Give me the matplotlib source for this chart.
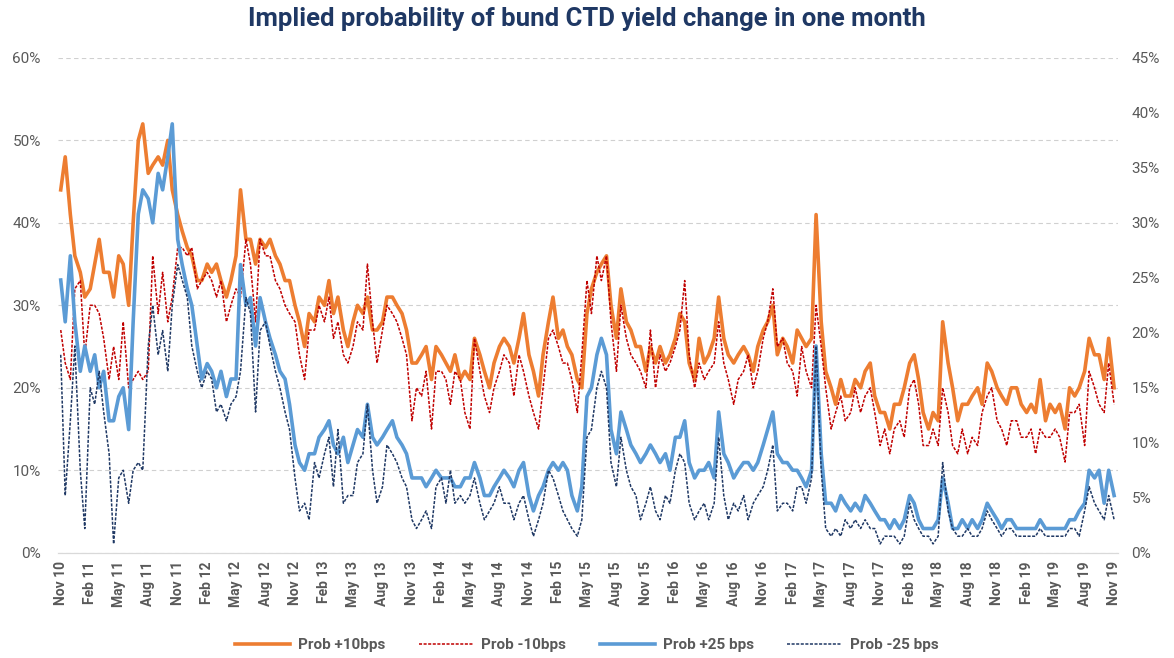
import numpy as np
import pandas as pd
import matplotlib as mpl
mpl.use('Agg')
import matplotlib.pyplot as plt
import matplotlib.dates as mdates
from matplotlib.ticker import FuncFormatter, MultipleLocator

plt.rcParams['font.family'] = ['Roboto', 'DejaVu Sans']

# semi-monthly observations, Nov 2010 - Nov 2019
dates = pd.date_range('2010-11-01', periods=217, freq='SMS')

# left axis (%)
prob_p10 = [44, 48, 41, 36, 34, 31, 32, 35, 38, 34, 34, 31, 36, 35, 30, 40, 50, 52, 46, 47, 48, 47, 50, 44, 41,
            39, 37, 36, 33, 33, 35, 34, 35, 33, 31, 33, 36,
            44, 38, 38, 35, 38, 37, 38, 36, 35, 33, 33, 30, 28, 25, 29, 28, 31, 30, 33, 29, 31, 27, 25, 28,
            30, 29, 31, 27, 27, 28, 31, 31, 30, 29, 27, 23, 23, 24, 25, 21, 25, 24, 23, 22, 24, 21, 22,
            21, 26, 24, 22, 20, 23, 25, 26, 25, 23, 26, 29, 24, 22, 19, 24, 28, 31, 26, 27, 25, 24, 21, 20,
            29, 32, 34, 35, 36, 30, 26, 32, 28, 27, 25, 25, 22, 25, 23, 25, 23, 24, 26, 29, 28, 23, 21,
            26, 23, 24, 26, 31, 26, 24, 23, 24, 25, 24, 22, 25, 27, 28, 30, 24, 26, 25, 23, 27, 26, 25, 26,
            41, 28, 22, 20, 18, 21, 19, 19, 21, 20, 22, 23, 19, 17, 17, 15, 18, 18, 20, 23, 24, 21, 17,
            15, 17, 16, 28, 23, 20, 16, 18, 18, 19, 20, 18, 23, 22, 20, 19, 18, 20, 20, 18, 17, 18, 17, 21,
            16, 18, 17, 18, 15, 20, 19, 20, 22, 26, 24, 24, 21, 26, 20]

prob_m10 = [27, 23, 21, 32, 33, 24, 30, 30, 29, 26, 21, 25, 21, 28, 20, 21, 22, 21, 22, 36, 29, 34, 28, 31, 37,
            37, 36, 37, 32, 33, 34, 33, 31, 33, 28, 30, 32,
            31, 38, 35, 28, 38, 36, 36, 33, 32, 30, 29, 28, 24, 21, 27, 27, 30, 28, 31, 26, 28, 24, 23, 25,
            28, 27, 35, 28, 23, 27, 30, 29, 28, 26, 24, 16, 20, 19, 22, 15, 22, 22, 21, 18, 22, 21, 17,
            15, 26, 22, 19, 17, 20, 22, 24, 23, 19, 24, 22, 19, 17, 15, 20, 26, 27, 25, 23, 23, 21, 17, 24,
            33, 29, 36, 33, 36, 28, 22, 30, 26, 24, 23, 22, 20, 27, 20, 24, 22, 23, 25, 27, 33, 24, 20,
            23, 21, 22, 23, 28, 23, 21, 18, 21, 22, 24, 20, 22, 26, 28, 32, 25, 26, 23, 22, 19, 25, 22, 20,
            30, 25, 20, 15, 17, 19, 16, 17, 20, 17, 19, 20, 17, 13, 15, 12, 15, 16, 14, 20, 21, 18, 13,
            13, 15, 13, 20, 17, 13, 12, 15, 12, 14, 13, 17, 19, 20, 16, 15, 13, 16, 16, 14, 14, 15, 12, 15,
            14, 14, 15, 14, 11, 17, 17, 18, 13, 22, 20, 18, 17, 23, 18]

# right axis (%)
prob_p25 = [24.8, 21.0, 27.0, 21.0, 16.5, 18.8, 16.5, 18.0, 15.0, 16.5, 12.0, 12.0, 14.2, 15.0, 11.2, 21.0,
            30.8, 33.0, 32.2, 30.0, 34.5, 33.0, 36.0, 39.0, 28.5, 26.2, 24.0, 22.5, 18.8, 15.8, 17.2, 16.5,
            15.0, 16.5, 14.2, 15.8, 15.8,
            26.2, 22.5, 23.2, 18.8, 23.2, 21.0, 19.5, 18.0, 16.5, 15.8, 13.5, 9.8, 8.2, 7.5, 9.0, 9.0, 10.5,
            11.2, 12.0, 9.8, 9.0, 10.5, 8.2, 9.8, 11.2, 10.5, 13.5, 10.5, 9.8, 10.5, 11.2, 12.0, 10.5, 9.8,
            9.0, 6.8, 6.8, 6.8, 6.0, 6.8, 7.5, 6.8, 6.8, 6.8, 6.0, 6.0, 6.8,
            6.8, 8.2, 6.8, 5.2, 5.2, 6.0, 6.8, 7.5, 6.8, 6.0, 7.5, 8.2, 5.2, 3.8, 5.2, 6.0, 7.5, 8.2, 7.5,
            8.2, 7.5, 5.2, 3.8, 6.0, 14.2, 15.0, 18.0, 19.5, 18.0, 11.2, 9.0, 12.8, 11.2, 9.8, 9.0, 8.2,
            9.0, 9.8, 9.0, 8.2, 9.0, 7.5, 10.5, 10.5, 12.0, 8.2, 6.8,
            7.5, 7.5, 8.2, 6.8, 12.8, 9.0, 8.2, 6.8, 7.5, 8.2, 8.2, 7.5, 8.2, 9.8, 11.2, 12.8, 9.0, 8.2,
            8.2, 7.5, 7.5, 6.8, 6.0, 7.5, 18.8, 9.0, 4.5, 4.5, 3.8, 5.2, 4.5, 3.8, 4.5, 3.8, 5.2, 4.5, 3.8,
            3.0, 3.0, 2.2, 3.0, 2.2, 3.0, 5.2, 4.5, 3.0, 2.2,
            2.2, 2.2, 3.0, 6.8, 4.5, 2.2, 2.2, 3.0, 2.2, 3.0, 2.2, 3.0, 4.5, 3.8, 3.0, 2.2, 3.0, 3.0, 2.2,
            2.2, 2.2, 2.2, 2.2, 3.0, 2.2, 2.2, 2.2, 2.2, 2.2, 3.0, 3.0, 3.8, 4.5, 7.5, 6.8, 7.5, 4.5, 7.5, 5.2]

prob_m25 = [18.0, 5.2, 12.0, 18.8, 7.5, 2.2, 15.0, 13.5, 16.5, 12.8, 9.0, 0.8, 6.8, 7.5, 4.5, 7.5, 8.2, 7.5,
            18.8, 22.5, 18.0, 20.2, 16.5, 22.5, 26.2, 24.8, 23.2, 18.8, 16.5, 15.0, 16.5, 15.8, 12.8, 13.5,
            12.0, 13.5, 14.2,
            16.5, 23.2, 21.8, 12.8, 20.2, 21.0, 18.8, 16.5, 15.0, 12.8, 11.2, 6.8, 3.8, 4.5, 3.0, 8.2, 6.8,
            9.0, 10.5, 6.0, 11.2, 4.5, 5.2, 5.2, 8.2, 9.0, 13.5, 7.5, 4.5, 6.0, 9.8, 9.0, 8.2, 6.8, 6.0,
            3.0, 2.2, 3.0, 3.8, 2.2, 6.0, 6.8, 4.5, 7.5, 4.5, 5.2, 4.5,
            5.2, 6.8, 4.5, 3.0, 3.8, 4.5, 6.0, 4.5, 4.5, 3.0, 4.5, 5.2, 3.0, 1.5, 3.0, 4.5, 7.5, 6.8, 5.2,
            3.8, 3.0, 2.2, 1.5, 3.0, 10.5, 11.2, 15.0, 16.5, 15.0, 8.2, 6.0, 10.5, 7.5, 6.0, 5.2, 3.0, 4.5,
            6.0, 3.8, 3.0, 5.2, 4.5, 7.5, 9.0, 8.2, 4.5, 3.0,
            3.8, 4.5, 3.0, 4.5, 10.5, 5.2, 3.0, 4.5, 3.8, 5.2, 3.0, 4.5, 5.2, 6.0, 7.5, 9.8, 3.8, 4.5, 4.5,
            3.8, 6.0, 6.0, 4.5, 6.8, 18.8, 7.5, 2.2, 1.5, 2.2, 1.5, 3.0, 2.2, 3.0, 2.2, 3.0, 2.2, 2.2, 0.8,
            1.5, 1.5, 1.5, 0.8, 1.5, 4.5, 3.0, 2.2, 1.5,
            1.5, 0.8, 1.5, 8.2, 3.8, 2.2, 1.5, 1.5, 2.2, 1.5, 1.5, 2.2, 3.8, 3.0, 2.2, 1.5, 2.2, 2.2, 1.5,
            1.5, 1.5, 1.5, 1.5, 2.2, 1.5, 1.5, 1.5, 1.5, 1.5, 2.2, 2.2, 1.5, 3.8, 6.0, 4.5, 3.8, 3.0, 5.2, 3.0]

labels = ['Prob +10bps', 'Prob -10bps', 'Prob +25 bps', 'Prob -25 bps']
colors = ['#ED7D31', '#C00000', '#5B9BD5', '#1F3864']
tick_dates = pd.date_range('2010-11-01', '2019-11-01', freq='3MS')

grey = '#595959'
fig = plt.figure(figsize=(11.74, 6.58), dpi=100)
ax = fig.add_axes([0.049, 0.160, 0.903, 0.752])
ax2 = ax.twinx()

l1, = ax.plot(dates, prob_p10, color=colors[0], lw=2.6, label=labels[0], zorder=3)
l2, = ax.plot(dates, prob_m10, color=colors[1], lw=1.1, ls=(0, (2, 1)), label=labels[1], zorder=4)
l3, = ax2.plot(dates, prob_p25, color=colors[2], lw=2.6, label=labels[2], zorder=3)
l4, = ax2.plot(dates, prob_m25, color=colors[3], lw=1.1, ls=(0, (2, 1)), label=labels[3], zorder=4)

ax.set_ylim(0, 60)
ax2.set_ylim(0, 45)
ax.yaxis.set_major_locator(MultipleLocator(10))
ax2.yaxis.set_major_locator(MultipleLocator(5))
pct = FuncFormatter(lambda v, p: '%d%%' % v)
ax.yaxis.set_major_formatter(pct)
ax2.yaxis.set_major_formatter(pct)

ax.set_xlim(pd.Timestamp('2010-10-22'), pd.Timestamp('2019-11-12'))
ax.set_xticks(tick_dates)
ax.xaxis.set_major_formatter(mdates.DateFormatter('%b %y'))
for t in ax.get_xticklabels():
    t.set_rotation(90)
    t.set_fontweight('bold')

ax.grid(axis='y', color='#D0D0D0', ls=(0, (4, 3)), lw=0.8)
ax.set_axisbelow(True)
for a in (ax, ax2):
    for s in ('top', 'left', 'right'):
        a.spines[s].set_visible(False)
    a.spines['bottom'].set_color('#D9D9D9')
    a.tick_params(length=0, colors=grey, labelsize=11)
ax.tick_params(axis='x', labelsize=10, pad=6)
ax.tick_params(axis='y', pad=12)
ax2.tick_params(axis='y', pad=10)

fig.suptitle('Implied probability of bund CTD yield change in one month', x=0.5, y=0.99,
             fontsize=18.5, fontweight='bold', color='#1F3864')

fig.legend(handles=[l1, l2, l3, l4], loc='lower center', bbox_to_anchor=(0.5, -0.012), ncol=4,
           frameon=False, handlelength=3.6, columnspacing=2.2, handletextpad=0.5,
           prop={'size': 11, 'weight': 'bold'}, labelcolor=grey)

plt.savefig('out.png', dpi=100)
